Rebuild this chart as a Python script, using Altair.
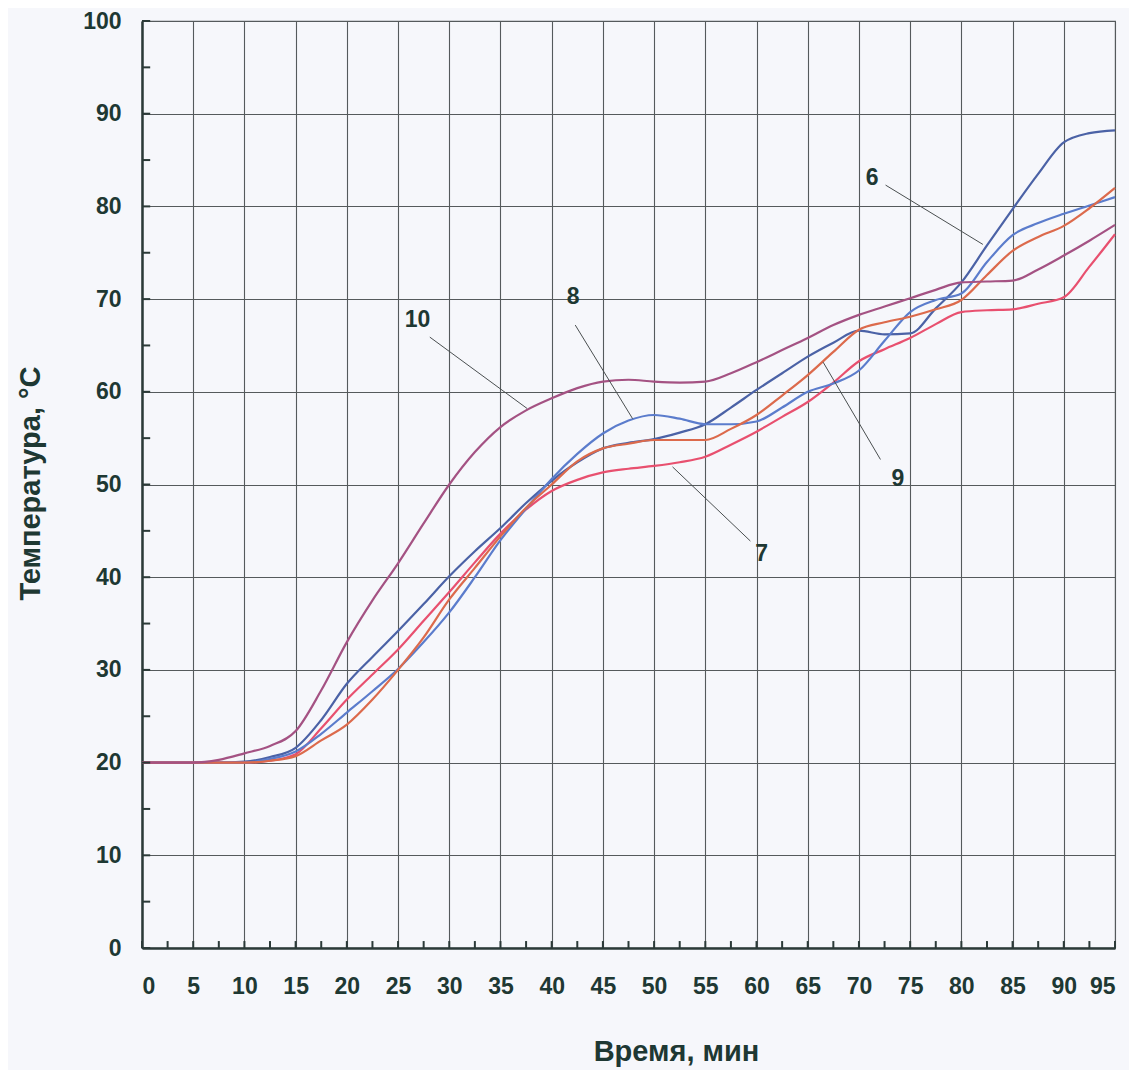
import altair as alt
import pandas as pd

# ---- data ----
time = [0, 2.5, 5, 7.5, 10, 12.5, 15, 17.5, 20, 22.5, 25, 27.5, 30, 32.5, 35, 37.5,
        40, 42.5, 45, 47.5, 50, 52.5, 55, 57.5, 60, 62.5, 65, 67.5, 70, 72.5, 75,
        77.5, 80, 82.5, 85, 87.5, 90, 92.5, 95]

t6 = [20, 20, 20, 20, 20.1, 20.6, 21.6, 24.6, 28.5, 31.4, 34.2, 37.1, 40.1, 42.8, 45.3, 48.0,
      50.4, 52.4, 53.9, 54.5, 54.9, 55.6, 56.5, 58.3, 60.2, 62.0, 63.8, 65.3, 66.6, 66.2, 66.3,
      69.0, 71.8, 75.8, 79.7, 83.5, 86.9, 87.9, 88.2]
t7 = [20, 20, 20, 20, 20, 20.2, 20.9, 23.7, 26.8, 29.5, 32.2, 35.3, 38.4, 41.6, 44.7, 47.3,
      49.3, 50.5, 51.3, 51.7, 52.0, 52.4, 53.0, 54.3, 55.7, 57.3, 58.9, 61.0, 63.3, 64.6, 65.8,
      67.3, 68.6, 68.8, 68.9, 69.5, 70.2, 73.5, 77.0]
t8 = [20, 20, 20, 20, 20.0, 20.4, 21.2, 23.1, 25.4, 27.7, 30.1, 33.0, 36.2, 40.0, 44.0, 47.4,
      50.6, 53.3, 55.5, 56.9, 57.5, 57.1, 56.5, 56.5, 56.8, 58.3, 60.0, 60.9, 62.3, 65.5, 68.6,
      69.9, 70.6, 74.0, 76.9, 78.2, 79.2, 80.1, 81.0]
t9 = [20, 20, 20, 20, 20, 20.2, 20.7, 22.4, 24.1, 26.8, 30.0, 33.5, 37.6, 41.0, 44.4, 47.5,
      50.0, 52.5, 53.9, 54.4, 54.8, 54.8, 54.8, 56.0, 57.5, 59.6, 61.8, 64.3, 66.7, 67.5, 68.1,
      68.9, 69.9, 72.6, 75.2, 76.7, 77.9, 79.8, 82.0]
t10 = [20, 20, 20, 20.3, 21.0, 21.8, 23.4, 27.8, 33.0, 37.5, 41.5, 45.8, 50.0, 53.5, 56.2, 58.0,
       59.3, 60.4, 61.1, 61.3, 61.1, 61.0, 61.1, 62.0, 63.2, 64.5, 65.8, 67.2, 68.3, 69.2, 70.1,
       71.0, 71.8, 71.9, 72.0, 73.2, 74.7, 76.3, 78.0]

series_names = ["6", "7", "8", "9", "10"]
series_values = [t6, t7, t8, t9, t10]
series_colors = ["#4b62a6", "#e8506f", "#5b7ccc", "#dc6a4c", "#a45283"]

# curve labels and their leader lines
label_text = ["10", "8", "7", "9", "6"]
label_x = [26.9, 42.1, 60.5, 73.8, 71.3]
label_y = [67.7, 70.2, 42.5, 50.6, 83.1]
leader_x1 = [28.1, 42.3, 59.4, 72.1, 72.6]
leader_y1 = [65.9, 67.2, 43.9, 52.7, 82.3]
leader_x2 = [37.6, 47.9, 51.8, 66.5, 82.1]
leader_y2 = [58.2, 57.1, 51.9, 63.2, 75.9]

x_major = list(range(0, 100, 5))
x_minor = [i * 2.5 for i in range(0, 39)]
y_major = list(range(0, 110, 10))
y_minor = list(range(0, 105, 5))

# ---- tables ----
rows = []
for name, vals in zip(series_names, series_values):
    for t, v in zip(time, vals):
        rows.append({"series": name, "time": t, "temp": v})
df = pd.DataFrame(rows)

labels_df = pd.DataFrame({"text": label_text, "x": label_x, "y": label_y})
leaders_df = pd.DataFrame({"x1": leader_x1, "y1": leader_y1, "x2": leader_x2, "y2": leader_y2})
xt_df = pd.DataFrame({"x": x_minor, "y0": [0] * len(x_minor), "y1": [0.75] * len(x_minor)})
yt_df = pd.DataFrame({"y": y_minor, "x0": [0] * len(y_minor), "x1": [0.8] * len(y_minor)})

FONT = "Liberation Sans"
TXT = "#1e3833"

xscale = alt.Scale(domain=[0, 95], nice=False, zero=False)
yscale = alt.Scale(domain=[0, 100], nice=False)

xaxis = alt.Axis(
    values=x_major, title="Время, мин", grid=True, gridColor="#555a5c", gridWidth=1.1,
    ticks=False, tickSize=0, labelPadding=27, labelFont=FONT, labelFontSize=23,
    labelFontWeight="bold", labelColor=TXT, domainColor="#2b3a38", domainWidth=2.5,
    titleFont=FONT, titleFontSize=29, titleFontWeight="bold", titleColor=TXT,
    titleX=534, titleY=112, titleAlign="center", titleBaseline="alphabetic",
)
yaxis = alt.Axis(
    values=y_major, title="Температура, °C", grid=True, gridColor="#555a5c", gridWidth=1.1,
    ticks=False, tickSize=0, labelPadding=21, labelFont=FONT, labelFontSize=23,
    labelFontWeight="bold", labelColor=TXT, domainColor="#2b3a38", domainWidth=2.5,
    titleFont=FONT, titleFontSize=29, titleFontWeight="bold", titleColor=TXT,
    titleX=-103, titleY=462, titleAngle=-90, titleAlign="center", titleBaseline="alphabetic",
)

lines = alt.Chart(df).mark_line(strokeWidth=2.2, interpolate="monotone").encode(
    x=alt.X("time:Q", scale=xscale, axis=xaxis),
    y=alt.Y("temp:Q", scale=yscale, axis=yaxis),
    color=alt.Color("series:N", scale=alt.Scale(domain=series_names, range=series_colors), legend=None),
    detail="series:N",
)

xticks = alt.Chart(xt_df).mark_rule(color="#2b3a38", strokeWidth=2).encode(
    x="x:Q", y="y0:Q", y2="y1:Q"
)
yticks = alt.Chart(yt_df).mark_rule(color="#2b3a38", strokeWidth=2).encode(
    y="y:Q", x="x0:Q", x2="x1:Q"
)

leaders = alt.Chart(leaders_df).mark_rule(color="#4a4f50", strokeWidth=1).encode(
    x="x1:Q", y="y1:Q", x2="x2:Q", y2="y2:Q"
)

labels = alt.Chart(labels_df).mark_text(
    font=FONT, fontSize=23, fontWeight="bold", color=TXT, align="center", baseline="middle"
).encode(x="x:Q", y="y:Q", text="text:N")

chart = alt.layer(lines, leaders, labels, xticks, yticks).properties(
    width=973, height=927,
    autosize=alt.AutoSizeParams(type="none"),
    padding={"left": 134, "top": 13, "right": 14, "bottom": 122},
    background="#f6f7fb",
).configure_view(stroke="#555a5c", strokeWidth=1.1)

chart.save("out.html", embed_options={"renderer": "svg", "actions": False})
